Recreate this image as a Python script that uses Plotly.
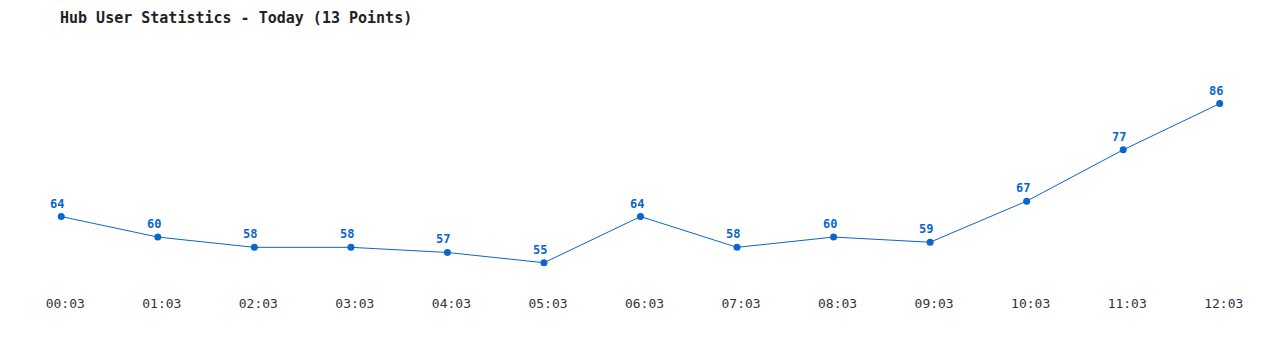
import plotly.graph_objects as go

times = ["00:03", "01:03", "02:03", "03:03", "04:03", "05:03", "06:03",
         "07:03", "08:03", "09:03", "10:03", "11:03", "12:03"]
users = [64, 60, 58, 58, 57, 55, 64, 58, 60, 59, 67, 77, 86]
title_text = "Hub User Statistics - Today (13 Points)"

xs = list(range(len(times)))
blue = "#0A66CC"

fig = go.Figure()
fig.add_trace(go.Scatter(
    x=xs, y=users, mode="lines+markers",
    line=dict(color=blue, width=1),
    marker=dict(color=blue, size=7),
    cliponaxis=False, hoverinfo="skip"))

for x, v in zip(xs, users):
    fig.add_annotation(x=x, y=v, text=str(v), showarrow=False,
                       xanchor="center", yanchor="middle", xshift=-4, yshift=13,
                       font=dict(family="DejaVu Sans Mono", size=12, color=blue, weight="bold"))

fig.update_layout(
    width=1280, height=350,
    margin=dict(l=13, r=12, t=42, b=58),
    paper_bgcolor="white", plot_bgcolor="white",
    showlegend=False,
    title=dict(text=title_text, x=60/1280, xanchor="left", xref="container",
               y=1-18/350, yanchor="middle", yref="container",
               font=dict(family="DejaVu Sans Mono", size=15, color="#222", weight="bold")),
    xaxis=dict(range=[-0.5, 12.5], tickmode="array", tickvals=xs, ticktext=times,
               showgrid=False, zeroline=False, showline=False, ticks="",
               ticklabelshift=4, ticklabelstandoff=2,
               tickfont=dict(family="DejaVu Sans Mono", size=13, color="#333")),
    yaxis=dict(range=[49.3, 98], showgrid=False, zeroline=False, showline=False,
               showticklabels=False, ticks=""),
)
fig.write_html("out.html")
